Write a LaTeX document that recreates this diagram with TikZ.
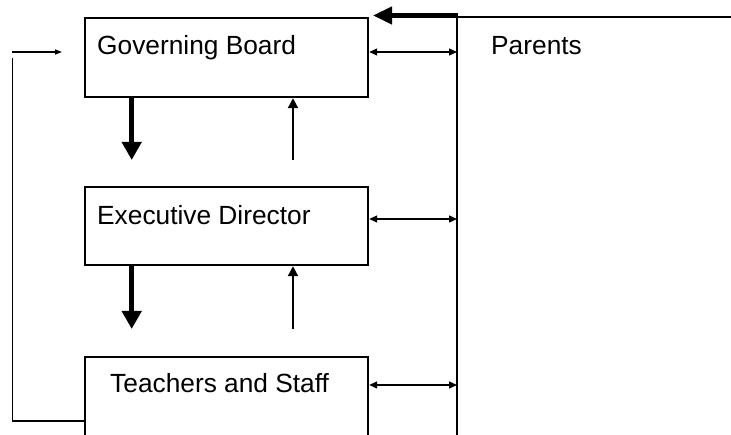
\documentclass[tikz,border=0pt]{standalone}
\usepackage{fontspec}
\setmainfont{Liberation Sans}
\usetikzlibrary{arrows.meta}
\begin{document}
\begin{tikzpicture}[x=1pt,y=-1pt,
  orgbox/.style={draw, line width=2.4pt, rectangle, minimum width=283pt, minimum height=79pt, inner sep=0pt},
  lbl/.style={anchor=base west, inner sep=0pt, font=\fontsize{26.3}{30}\selectfont},
  down/.style={line width=5.5pt, -{Triangle[width=19pt,length=18pt]}},
  up/.style={line width=2.2pt, -{Triangle[width=10pt,length=10pt]}},
  both/.style={line width=1.4pt, {Triangle[width=7pt,length=8pt]}-{Triangle[width=7pt,length=8pt]}},
  thin/.style={line width=1.3pt},
  bar/.style={line width=2.4pt}]
\useasboundingbox (0,0) rectangle (731,435);
\clip (0,0) rectangle (731,435);
% boxes
\node[orgbox] (gb) at (226.5,57.5) {};
\node[orgbox, minimum height=78pt] (ed) at (226.5,226) {};
\node[orgbox, minimum height=90pt] (ts) at (226.5,402) {};
% labels
\node[lbl] (gbt) at (97,55) {Governing Board};
\node[lbl] (edt) at (97,225) {Executive Director};
\node[lbl] (tst) at (110,393) {Teachers and Staff};
\node[lbl] (par) at (491,55) {Parents};
% parents line
\coordinate (vtop) at (457,15);
\coordinate (vbot) at (457,445);
\coordinate (rtop) at (731,17);
\coordinate (htop) at (457,17);
\draw[bar] (vtop) -- (vbot);
\draw[bar] (htop) -- (rtop);
\coordinate (ta) at (458,15.5);
\coordinate (tb) at (373,15.5);
\draw[line width=4.5pt, -{Triangle[width=17pt,length=19pt]}] (ta) -- (tb);
% double arrows
\coordinate (p1) at (457,52);
\coordinate (p2) at (457,219);
\coordinate (p3) at (457,385);
\draw[both] (gb.east |- p1) -- (p1);
\draw[both] (ed.east |- p2) -- (p2);
\draw[both] (ts.east |- p3) -- (p3);
% down arrows
\coordinate (d1) at (131.7,160);
\coordinate (d2) at (131.7,329);
\draw[down] (gb.south -| d1) -- (d1);
\draw[down] (ed.south -| d2) -- (d2);
% up arrows
\coordinate (u1) at (293,160);
\coordinate (u2) at (293,329);
\draw[up] (u1) -- (u1 |- gb.south);
\draw[up] (u2) -- (u2 |- ed.south);
% feedback line
\coordinate (fl) at (12.5,421);
\coordinate (ft) at (12.5,58);
\draw[thin] (ts.west |- fl) -- (fl) -- (ft);
\coordinate (fa) at (12,52);
\coordinate (fb) at (62,52);
\draw[thin, -{Triangle[width=5pt,length=7pt]}] (fa) -- (fb);
\end{tikzpicture}
\end{document}
